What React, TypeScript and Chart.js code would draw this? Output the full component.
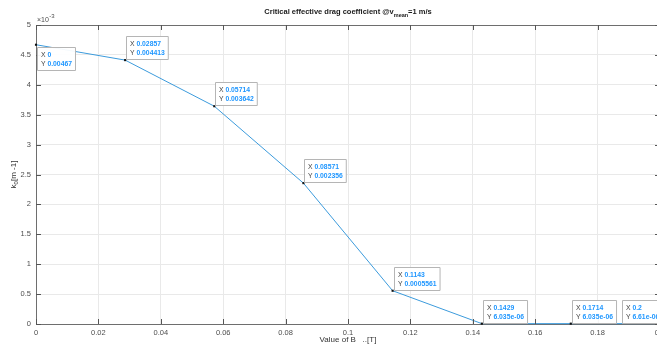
import React, { useEffect, useRef } from "react";
import { Chart, registerables } from "chart.js";
Chart.register(...registerables);

// Data
const xValues = [0, 0.02857, 0.05714, 0.08571, 0.1143, 0.1429, 0.1714, 0.2];
const yValues = [0.00467, 0.004413, 0.003642, 0.002356, 0.0005561, 6.035e-6, 6.035e-6, 6.61e-6];
const tipXLabels = ["0", "0.02857", "0.05714", "0.08571", "0.1143", "0.1429", "0.1714", "0.2"];
const tipYLabels = ["0.00467", "0.004413", "0.003642", "0.002356", "0.0005561", "6.035e-06", "6.035e-06", "6.61e-06"];
const titleMain = "Critical effective drag coefficient @v";
const titleSub = "mean";
const titleEnd = "=1 m/s";
const yLabelMain = "k";
const yLabelSub = "0";
const yLabelEnd = "[m -1]";
const xLabel = "Value of B   ..[T]";

const FONT = '"Liberation Sans", Arial, Helvetica, sans-serif';

const decorPlugin = {
  id: "decor",
  afterDraw(chart: any) {
    const ctx = chart.ctx as CanvasRenderingContext2D;
    const { left, right, top, bottom } = chart.chartArea;
    const xs = chart.scales.x;
    const ys = chart.scales.y;
    ctx.save();
    // box top and right lines
    ctx.strokeStyle = "#6e6e6e";
    ctx.lineWidth = 1;
    ctx.beginPath();
    ctx.moveTo(left, top + 0.5);
    ctx.lineTo(right, top + 0.5);
    ctx.moveTo(right - 0.5, top);
    ctx.lineTo(right - 0.5, bottom);
    ctx.stroke();
    // inward ticks
    ctx.strokeStyle = "#555";
    ctx.beginPath();
    xs.ticks.forEach((t: any) => {
      const px = Math.round(xs.getPixelForValue(t.value)) + 0.5;
      ctx.moveTo(px, bottom);
      ctx.lineTo(px, bottom - 5);
      ctx.moveTo(px, top);
      ctx.lineTo(px, top + 5);
    });
    ys.ticks.forEach((t: any) => {
      const py = Math.round(ys.getPixelForValue(t.value)) + 0.5;
      ctx.moveTo(left, py);
      ctx.lineTo(left + 5, py);
      ctx.moveTo(right, py);
      ctx.lineTo(right - 5, py);
    });
    ctx.stroke();

    // exponent label
    ctx.fillStyle = "#4d4d4d";
    ctx.textBaseline = "alphabetic";
    ctx.textAlign = "left";
    ctx.font = `7px ${FONT}`;
    ctx.fillText("\u00d710", left + 1, top - 3);
    const w10 = ctx.measureText("\u00d710").width;
    ctx.font = `6px ${FONT}`;
    ctx.fillText("-3", left + 1 + w10 + 0.5, top - 7);

    // title
    const cx = (left + right) / 2;
    ctx.fillStyle = "#1a1a1a";
    ctx.font = `bold 7.5px ${FONT}`;
    const wMain = ctx.measureText(titleMain).width;
    const wEnd = ctx.measureText(titleEnd).width;
    ctx.font = `bold 5.5px ${FONT}`;
    const wSub = ctx.measureText(titleSub).width;
    const total = wMain + wSub + wEnd;
    let tx = cx - total / 2;
    const ty = 14;
    ctx.font = `bold 7.5px ${FONT}`;
    ctx.fillText(titleMain, tx, ty);
    tx += wMain;
    ctx.font = `bold 5.5px ${FONT}`;
    ctx.fillText(titleSub, tx, ty + 2.5);
    tx += wSub;
    ctx.font = `bold 7.5px ${FONT}`;
    ctx.fillText(titleEnd, tx, ty);

    // y label
    ctx.save();
    ctx.translate(15.5, (top + bottom) / 2);
    ctx.rotate(-Math.PI / 2);
    ctx.fillStyle = "#333";
    ctx.font = `8px ${FONT}`;
    const wk = ctx.measureText(yLabelMain).width;
    const wE = ctx.measureText(yLabelEnd).width;
    ctx.font = `6px ${FONT}`;
    const ws = ctx.measureText(yLabelSub).width;
    let ly = -(wk + ws + wE) / 2;
    ctx.font = `8px ${FONT}`;
    ctx.fillText(yLabelMain, ly, 0);
    ly += wk;
    ctx.font = `6px ${FONT}`;
    ctx.fillText(yLabelSub, ly, 2.5);
    ly += ws;
    ctx.font = `8px ${FONT}`;
    ctx.fillText(yLabelEnd, ly, 0);
    ctx.restore();

    // x label
    ctx.fillStyle = "#333";
    ctx.font = `8px ${FONT}`;
    ctx.textAlign = "center";
    ctx.fillText(xLabel, cx, 342);
    ctx.textAlign = "left";

    // data tips
    const meta = chart.getDatasetMeta(0);
    meta.data.forEach((pt: any, i: number) => {
      const px = pt.x;
      const py = pt.y;
      ctx.font = `6.8px ${FONT}`;
      const wx = ctx.measureText("X ").width;
      const wy = ctx.measureText("Y ").width;
      ctx.font = `bold 6.8px ${FONT}`;
      const vx = ctx.measureText(tipXLabels[i]).width;
      const vy = ctx.measureText(tipYLabels[i]).width;
      const bw = Math.max(wx + vx, wy + vy) + 7;
      const bh = 23;
      let bx = px + 1;
      let by = py - 1 - bh;
      if (by < top) by = py + 2;
      if (bx + bw > right) bx = px - bw + 2;
      bx = Math.round(bx) + 0.5;
      by = Math.round(by) + 0.5;
      ctx.fillStyle = "rgba(255,255,255,0.95)";
      ctx.strokeStyle = "#b5b5b5";
      ctx.lineWidth = 1;
      ctx.beginPath();
      ctx.rect(bx, by, bw, bh);
      ctx.fill();
      ctx.stroke();
      ctx.font = `6.8px ${FONT}`;
      ctx.fillStyle = "#404040";
      ctx.fillText("X ", bx + 3.5, by + 9.5);
      ctx.fillText("Y ", bx + 3.5, by + 18.5);
      ctx.font = `bold 6.8px ${FONT}`;
      ctx.fillStyle = "#1e96ff";
      ctx.fillText(tipXLabels[i], bx + 3.5 + wx, by + 9.5);
      ctx.fillText(tipYLabels[i], bx + 3.5 + wy, by + 18.5);
    });
    ctx.restore();
  },
};

export default function App() {
  const ref = useRef<HTMLCanvasElement | null>(null);
  useEffect(() => {
    document.body.style.margin = "0";
    const canvas = ref.current!;
    const chart = new Chart(canvas, {
      type: "line",
      data: {
        datasets: [
          {
            data: xValues.map((x, i) => ({ x, y: yValues[i] })),
            borderColor: "rgb(60,155,220)",
            borderWidth: 1,
            pointStyle: "rect",
            pointRadius: 1.5,
            pointBackgroundColor: "#111",
            pointBorderColor: "#111",
            pointBorderWidth: 0,
            tension: 0,
            clip: false as any,
          },
        ],
      },
      options: {
        animation: false,
        responsive: false,
        devicePixelRatio: 1,
        layout: { padding: { top: 25, left: 0, right: 20, bottom: 0 } },
        plugins: { legend: { display: false }, tooltip: { enabled: false }, title: { display: false } },
        scales: {
          x: {
            type: "linear",
            min: 0,
            max: 0.2,
            afterFit: (s: any) => {
              s.height = 20;
            },
            ticks: {
              stepSize: 0.02,
              padding: 4,
              maxRotation: 0,
              color: "#4d4d4d",
              font: { family: FONT, size: 7.5 },
              callback: (v: any) => String(Number(Number(v).toFixed(2))),
            },
            grid: { color: "#e9e9e9", lineWidth: 1, drawTicks: false },
            border: { color: "#6e6e6e", width: 1 },
          },
          y: {
            type: "linear",
            min: 0,
            max: 0.005,
            afterFit: (s: any) => {
              s.width = 36;
            },
            ticks: {
              stepSize: 0.0005,
              padding: 5,
              color: "#4d4d4d",
              font: { family: FONT, size: 7.5 },
              callback: (v: any) => String(Number((Number(v) * 1000).toFixed(1))),
            },
            grid: { color: "#e9e9e9", lineWidth: 1, drawTicks: false },
            border: { color: "#6e6e6e", width: 1 },
          },
        },
      },
      plugins: [decorPlugin],
    });
    return () => chart.destroy();
  }, []);
  return (
    <div style={{ position: "fixed", left: 0, top: 0, width: 657, height: 344, overflow: "hidden", background: "#fff" }}>
      <canvas ref={ref} width={680} height={344} style={{ display: "block", width: 680, height: 344 }} />
    </div>
  );
}
